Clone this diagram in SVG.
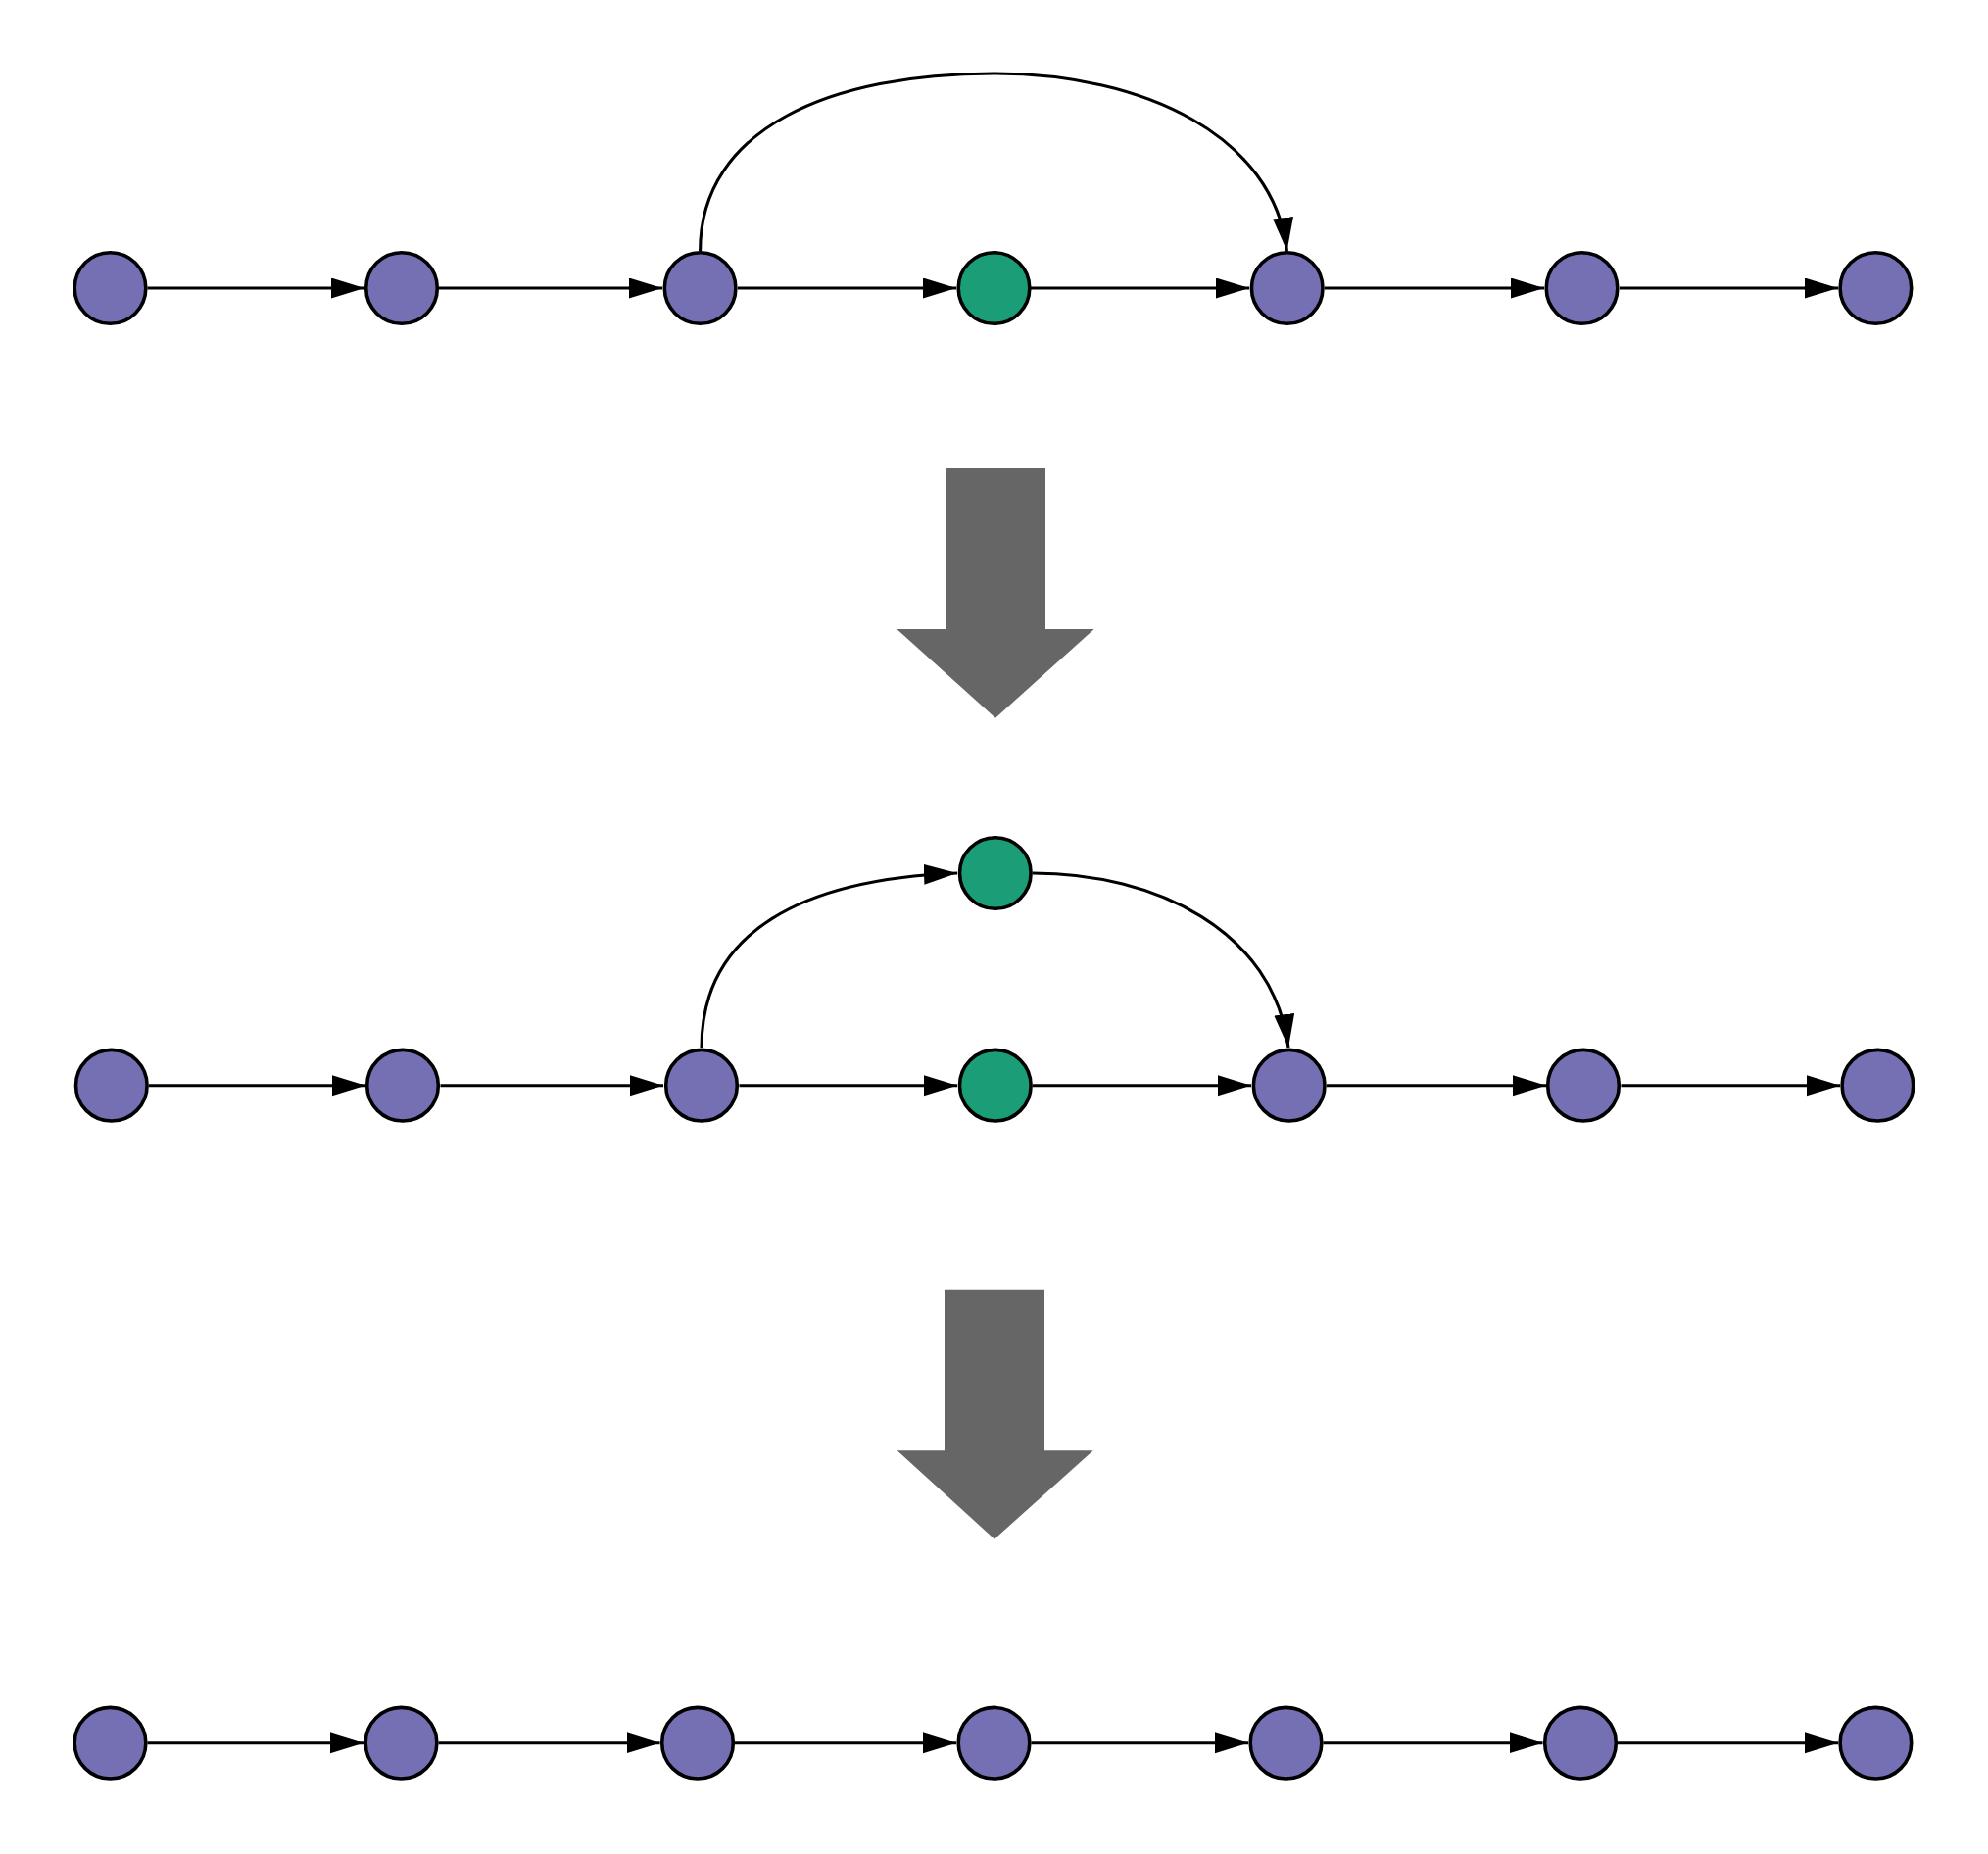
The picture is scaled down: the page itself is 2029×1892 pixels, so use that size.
<svg xmlns="http://www.w3.org/2000/svg" width="2029" height="1892" viewBox="0 0 2029 1892">
<defs>
<style>
.p{fill:#7570b3;stroke:#000;stroke-width:3.6}
.g{fill:#1b9e77;stroke:#000;stroke-width:3.6}
.e{fill:none;stroke:#000;stroke-width:3.1;marker-end:url(#ah)}
.big{fill:#666666}
</style>
<marker id="ah" markerUnits="userSpaceOnUse" markerWidth="36" markerHeight="22" refX="34" refY="10.5" orient="auto" viewBox="0 0 36 22">
<path d="M0,0 L34,10.5 L0,21 z" fill="#000"/>
</marker>
</defs>
<rect width="2029" height="1892" fill="#fff"/>
<g id="connectors">
<path class="e" d="M150.5,294 H372"/>
<path class="e" d="M448,294 H676"/>
<path class="e" d="M753,294 H976"/>
<path class="e" d="M1052,294 H1275"/>
<path class="e" d="M1352,294 H1576"/>
<path class="e" d="M1653,294 H1876"/>
<path class="e" d="M714.6,256 C714.6,130 850,75 1014,75 C1170,75 1300,140 1313.5,256"/>
<path class="e" d="M152,1107.7 H373"/>
<path class="e" d="M449.5,1107.7 H677"/>
<path class="e" d="M754.5,1107.7 H977"/>
<path class="e" d="M1054,1107.7 H1277"/>
<path class="e" d="M1354,1107.7 H1578"/>
<path class="e" d="M1654.5,1107.7 H1878"/>
<path class="e" d="M716,1069 C716,950 820,897 977,891"/>
<path class="e" d="M1054,891 C1180,891 1300,950 1315,1069"/>
<path class="e" d="M150.5,1778.7 H371"/>
<path class="e" d="M447.5,1778.7 H673.5"/>
<path class="e" d="M750,1778.7 H976"/>
<path class="e" d="M1052.5,1778.7 H1274"/>
<path class="e" d="M1350.5,1778.7 H1574.5"/>
<path class="e" d="M1651,1778.7 H1876"/>
</g>
<g id="transform-arrow-1"><polygon class="big" points="965,478 1067,478 1067,642 1116.7,642 1016,732.7 915.3,642 965,642"/></g>
<g id="transform-arrow-2"><polygon class="big" points="964,1315.7 1066,1315.7 1066,1480.3 1115.7,1480.3 1015,1570.7 915.7,1480.3 964,1480.3"/></g>
<g id="n1a"><circle class="p" cx="112.5" cy="294" r="36.3"/></g>
<g id="n2a"><circle class="p" cx="410" cy="294" r="36.3"/></g>
<g id="n3a"><circle class="p" cx="714.6" cy="294" r="36.3"/></g>
<g id="n4a"><circle class="g" cx="1014.5" cy="294" r="36.3"/></g>
<g id="n5a"><circle class="p" cx="1313.7" cy="294" r="36.3"/></g>
<g id="n6a"><circle class="p" cx="1614.5" cy="294" r="36.3"/></g>
<g id="n7a"><circle class="p" cx="1914.4" cy="294" r="36.3"/></g>
<g id="n1b"><circle class="p" cx="113.8" cy="1107.7" r="36.3"/></g>
<g id="n2b"><circle class="p" cx="411" cy="1107.7" r="36.3"/></g>
<g id="n3b"><circle class="p" cx="716" cy="1107.7" r="36.3"/></g>
<g id="n4b"><circle class="g" cx="1015.8" cy="1107.7" r="36.3"/></g>
<g id="n4c"><circle class="g" cx="1015.8" cy="891" r="36.3"/></g>
<g id="n5b"><circle class="p" cx="1315.7" cy="1107.7" r="36.3"/></g>
<g id="n6b"><circle class="p" cx="1616" cy="1107.7" r="36.3"/></g>
<g id="n7b"><circle class="p" cx="1916.4" cy="1107.7" r="36.3"/></g>
<g id="n1c"><circle class="p" cx="112.5" cy="1778.7" r="36.3"/></g>
<g id="n2c"><circle class="p" cx="409.5" cy="1778.7" r="36.3"/></g>
<g id="n3c"><circle class="p" cx="712" cy="1778.7" r="36.3"/></g>
<g id="n4c2"><circle class="p" cx="1014.5" cy="1778.7" r="36.3"/></g>
<g id="n5c"><circle class="p" cx="1312.5" cy="1778.7" r="36.3"/></g>
<g id="n6c"><circle class="p" cx="1613" cy="1778.7" r="36.3"/></g>
<g id="n7c"><circle class="p" cx="1914.4" cy="1778.7" r="36.3"/></g>
</svg>
